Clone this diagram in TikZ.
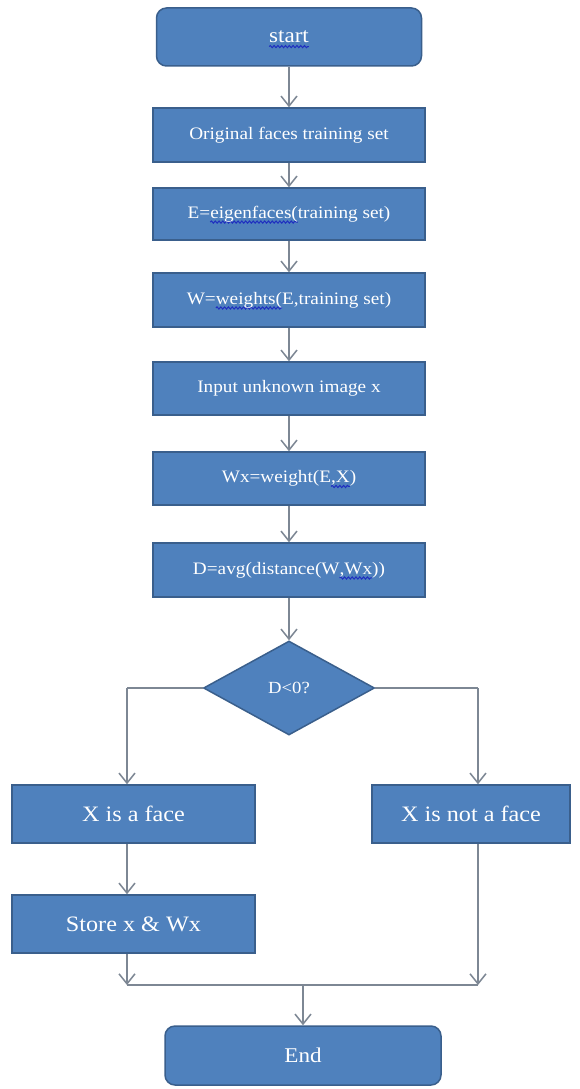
\documentclass[tikz,border=0pt]{standalone}
\usepackage{fontspec}
\setmainfont{Liberation Serif}[FakeStretch=1.1]
\usetikzlibrary{shapes.geometric,arrows.meta,calc,decorations.pathmorphing}
\definecolor{boxfill}{HTML}{4F81BD}
\definecolor{boxline}{HTML}{3A5F8C}
\definecolor{connc}{HTML}{7D8794}
\definecolor{wavec}{HTML}{1F2FC0}
\newsavebox\wvbox
\newcommand\wv[1]{\sbox\wvbox{#1}\leavevmode\tikz[overlay,baseline=0pt,x=1pt,y=1pt,sharp corners]{\draw[wavec, line width=1pt, sharp corners, decorate, decoration={snake, amplitude=1.1pt, segment length=3.8pt}] (0,-3.8) -- (\wd\wvbox,-3.8);}\usebox\wvbox}
\begin{document}
\begin{tikzpicture}[x=1pt,y=-1pt,
  box/.style={draw=boxline, fill=boxfill, line width=1.5pt, text=white, inner sep=0pt,
    minimum width=272pt, minimum height=54pt, font=\fontsize{17.5}{20}\selectfont},
  bigbox/.style={box, minimum width=243pt, minimum height=58pt, font=\fontsize{22}{25}\selectfont},
  term/.style={box, rounded corners=10pt, minimum height=58pt, font=\fontsize{21}{24}\selectfont},
  dia/.style={diamond, draw=boxline, fill=boxfill, line width=1.5pt, text=white, inner sep=0pt,
    minimum width=171pt, minimum height=94pt, font=\fontsize{17}{20}\selectfont},
  conn/.style={draw=connc, line width=1.5pt},
  arr/.style={conn, -{Straight Barb[length=10pt,width=16pt]}}]
\fill[white] (0,0) rectangle (580,1089);
\useasboundingbox (0,0) rectangle (580,1089);

\node[term, minimum width=265pt] (start) at (289,37) {\wv{start}};
\node[box] (orig) at (289,135) {Original faces training set};
\node[box, minimum height=52pt] (eig) at (289,214) {E=\wv{eigenfaces(}training set)};
\node[box] (wts) at (289,300) {W=\wv{weights(}E,training set)};
\node[box, minimum height=53pt] (inp) at (289,388.5) {Input unknown image x};
\node[box, minimum height=53pt] (wx) at (289,478.5) {Wx=weight(E\wv{,X})};
\node[box] (dist) at (289,570) {D=avg(distance(W\wv{,Wx}))};
\node[dia] (dec) at (289,688) {D<0?};
\node[bigbox] (face) at (133.5,814) {X is a face};
\node[bigbox, minimum width=198pt] (notface) at (471,814) {X is not a face};
\node[bigbox] (store) at (133.5,924) {Store x \& Wx};
\node[term, minimum width=276pt, minimum height=59pt] (end) at (303,1055.5) {End};

\coordinate (lx) at (127,688);
\coordinate (rx) at (478,688);
\coordinate (ml) at (127,985);
\coordinate (mr) at (478,985);

\draw[arr] (start) -- (orig);
\draw[arr] (orig) -- (eig);
\draw[arr] (eig) -- (wts);
\draw[arr] (wts) -- (inp);
\draw[arr] (inp) -- (wx);
\draw[arr] (wx) -- (dist);
\draw[arr] (dist) -- (dec);
\draw[conn] (dec.west) -- (lx);
\draw[arr] (lx) -- (lx |- face.north);
\draw[conn] (dec.east) -- (rx);
\draw[arr] (rx) -- (rx |- notface.north);
\draw[arr] (lx |- face.south) -- (lx |- store.north);
\draw[arr] (lx |- store.south) -- (ml);
\draw[arr] (rx |- notface.south) -- (mr);
\draw[conn] (ml) -- (mr);
\draw[arr] (ml -| end.north) -- (end.north);
\end{tikzpicture}
\end{document}
